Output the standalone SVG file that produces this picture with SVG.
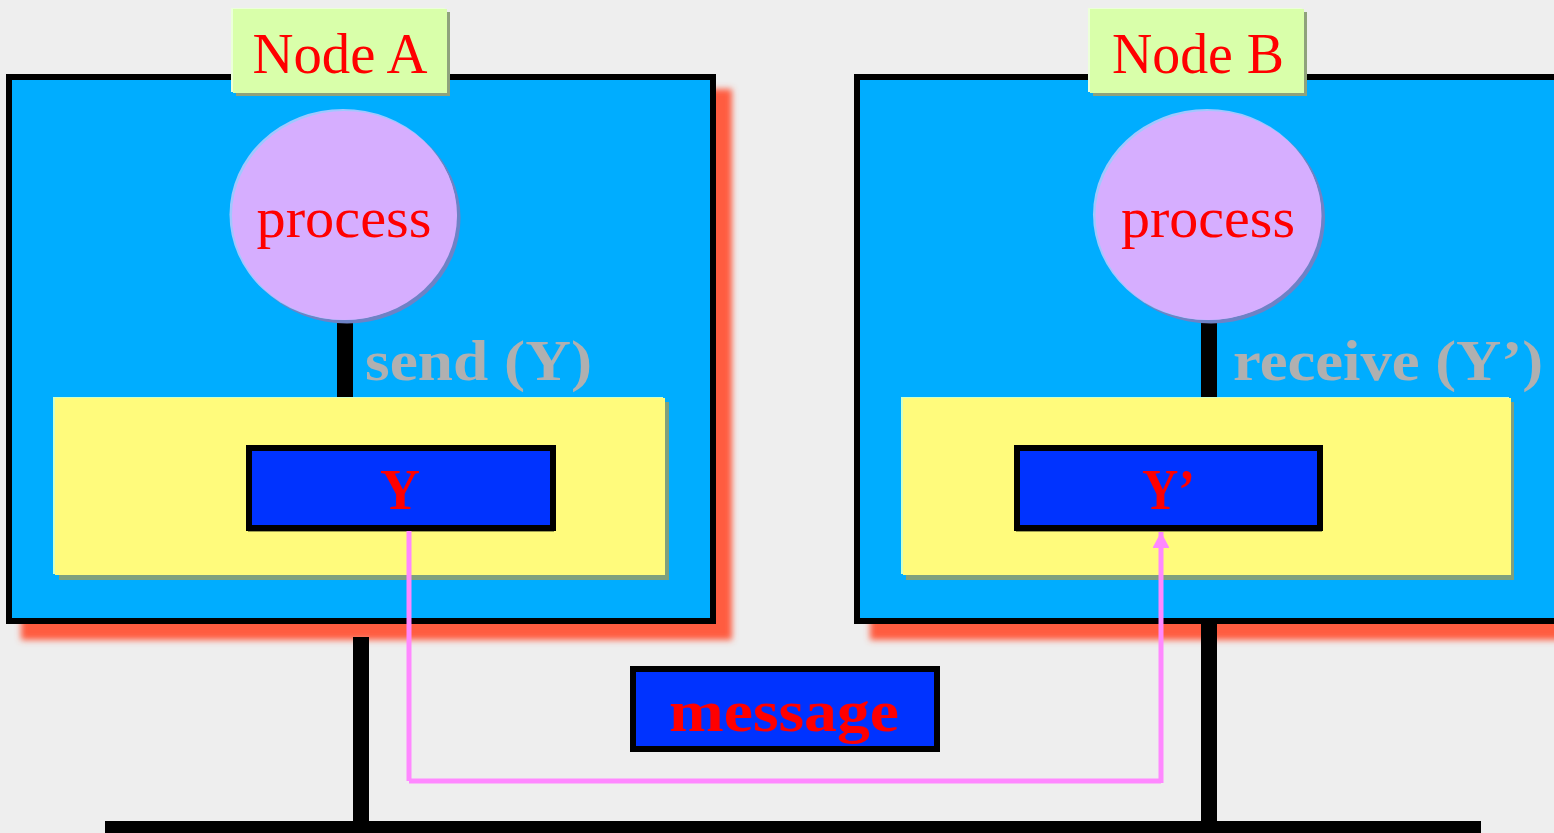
<svg xmlns="http://www.w3.org/2000/svg" width="1554" height="833" viewBox="0 0 1554 833">
  <defs>
    <filter id="soft" x="-5%" y="-5%" width="110%" height="110%">
      <feGaussianBlur stdDeviation="3"/>
    </filter>
    <marker id="arrow" markerUnits="userSpaceOnUse" markerWidth="18" markerHeight="16" refX="16" refY="8.5" orient="auto">
      <path d="M0,0 L16,8.5 L0,17 Z" fill="#FF88FF"/>
    </marker>
    <style>
      .frame { fill: #00ADFF; stroke: #000; stroke-width: 6; }
      .drop { fill: #FF5B3F; filter: url(#soft); }
      .tag { fill: #D9FFAA; }
      .tag-sh { fill: #8FA27C; }
      .tag-hl { fill: #ECFFDA; }
      .proc { fill: #D6AEFF; }
      .proc-sh { fill: #6E82C6; }
      .proc-hl { fill: #9FC8FF; }
      .buf { fill: #FFFB7C; }
      .buf-sh { fill: #7FA07E; }
      .buf-hl { fill: #CFFFC8; }
      .cell { fill: #0033FF; stroke: #000; stroke-width: 6; }
      .cell-sh { fill: #9C9C4E; }
      .red { fill: #FF0000; font-family: "Liberation Serif", "Times New Roman", serif; }
      .bold { font-weight: bold; }
      .op { fill: #B0B0B0; font-family: "Liberation Serif", "Times New Roman", serif; font-weight: bold; font-size: 58px; }
      .wire { stroke: #000; stroke-width: 16; fill: none; }
      .flow { stroke: #FF88FF; stroke-width: 5; fill: none; }
    </style>
  </defs>

  <rect width="1554" height="833" fill="#EEEEEE"/>

  <!-- Node A -->
  <g id="nodeA">
    <rect class="drop" x="21" y="89" width="711" height="551"/>
    <rect class="frame" x="9" y="77" width="704" height="544"/>
    <rect class="tag-sh" x="236" y="12" width="214" height="84"/>
    <rect class="tag-hl" x="231" y="8" width="214" height="84"/>
    <rect class="tag" x="233" y="9" width="214" height="84"/>
    <text class="red" x="340" y="73" font-size="58" text-anchor="middle" textLength="175" lengthAdjust="spacingAndGlyphs">Node A</text>
  </g>

  <!-- Node B -->
  <g id="nodeB">
    <rect class="drop" x="870" y="89" width="711" height="551"/>
    <rect class="frame" x="857" y="77" width="704" height="544"/>
    <rect class="tag-sh" x="1093" y="12" width="214" height="84"/>
    <rect class="tag-hl" x="1088" y="8" width="214" height="84"/>
    <rect class="tag" x="1090" y="9" width="214" height="84"/>
    <text class="red" x="1198" y="73" font-size="58" text-anchor="middle" textLength="172" lengthAdjust="spacingAndGlyphs">Node B</text>
  </g>

  <!-- links between processes, buffers and the bus -->
  <g id="connectors">
    <line class="wire" x1="345" y1="318" x2="345" y2="400"/>
    <line class="wire" x1="1209" y1="318" x2="1209" y2="400"/>
    <line class="wire" x1="361" y1="637" x2="361" y2="822"/>
    <line class="wire" x1="1209" y1="622" x2="1209" y2="822"/>
    <rect x="105" y="821" width="1376" height="12" fill="#000"/>
  </g>

  <!-- process A -->
  <g id="processA">
    <ellipse class="proc-sh" cx="347" cy="218" rx="113.5" ry="105.5"/>
    <ellipse class="proc-hl" cx="343" cy="214.5" rx="113.5" ry="105.5"/>
    <ellipse class="proc" cx="344.5" cy="215.5" rx="112.5" ry="104.5"/>
    <text class="red" x="344" y="237" font-size="58" text-anchor="middle" textLength="175" lengthAdjust="spacingAndGlyphs">process</text>
  </g>

  <!-- process B -->
  <g id="processB">
    <ellipse class="proc-sh" cx="1211" cy="218" rx="114" ry="105.5"/>
    <ellipse class="proc-hl" cx="1207" cy="214.5" rx="114" ry="105.5"/>
    <ellipse class="proc" cx="1208.5" cy="215.5" rx="113" ry="104.5"/>
    <text class="red" x="1208" y="237" font-size="58" text-anchor="middle" textLength="174" lengthAdjust="spacingAndGlyphs">process</text>
  </g>

  <!-- operation labels -->
  <g id="sendLabel">
    <text class="op" x="365" y="380" textLength="227" lengthAdjust="spacingAndGlyphs">send (Y)</text>
  </g>
  <g id="receiveLabel">
    <text class="op" x="1233" y="380" textLength="310" lengthAdjust="spacingAndGlyphs">receive (Y’)</text>
  </g>

  <!-- buffer A with variable Y -->
  <g id="bufferA">
    <rect class="buf-sh" x="59" y="402" width="610" height="178"/>
    <rect class="buf-hl" x="53" y="397" width="610" height="177"/>
    <rect class="buf" x="55" y="398" width="610" height="177"/>
    <rect class="cell-sh" x="248" y="447" width="306" height="85"/>
    <rect class="cell" x="249" y="448" width="304" height="80"/>
    <text class="red bold" x="400" y="509" font-size="58" text-anchor="middle" textLength="40" lengthAdjust="spacingAndGlyphs">Y</text>
  </g>

  <!-- buffer B with variable Y' -->
  <g id="bufferB">
    <rect class="buf-sh" x="906" y="402" width="608" height="178"/>
    <rect class="buf-hl" x="901" y="397" width="608" height="177"/>
    <rect class="buf" x="903" y="398" width="608" height="177"/>
    <rect class="cell-sh" x="1016" y="447" width="306" height="85"/>
    <rect class="cell" x="1017" y="448" width="303" height="80"/>
    <text class="red bold" x="1142" y="509" font-size="58" textLength="53" lengthAdjust="spacingAndGlyphs">Y’</text>
  </g>

  <!-- message transfer path -->
  <g id="transfer">
    <line class="flow" x1="409" y1="531" x2="409" y2="781"/>
    <line class="flow" x1="409" y1="781" x2="1161" y2="781"/>
    <line class="flow" x1="1161" y1="783" x2="1161" y2="532" marker-end="url(#arrow)"/>
  </g>

  <!-- message -->
  <g id="message">
    <rect class="cell" x="633" y="669" width="304" height="80"/>
    <text class="red bold" x="669" y="731" font-size="60" textLength="230" lengthAdjust="spacingAndGlyphs">message</text>
  </g>
</svg>
